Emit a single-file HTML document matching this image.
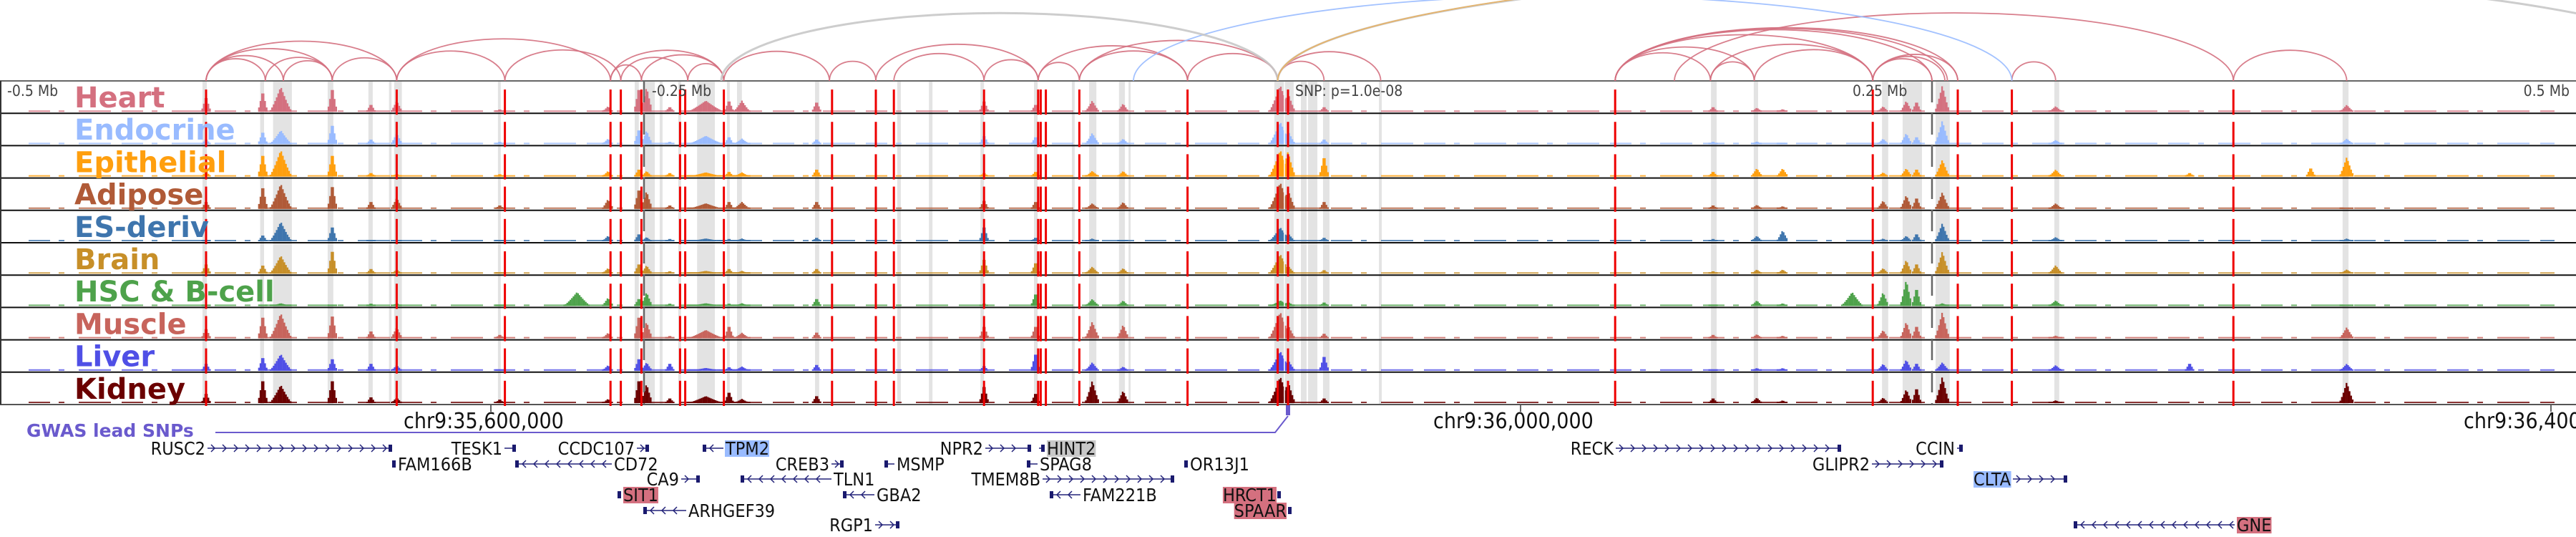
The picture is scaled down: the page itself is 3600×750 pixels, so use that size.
<!DOCTYPE html>
<html><head><meta charset="utf-8">
<style>
html,body{margin:0;padding:0;background:#fff;width:3600px;height:750px;overflow:hidden}
svg{display:block}
text{font-family:"DejaVu Sans","Liberation Sans",sans-serif}
.lab{font-weight:bold;font-size:40px}
.ax{font-family:"DejaVu Sans Condensed","DejaVu Sans","Liberation Sans",sans-serif;font-size:21px;fill:#444}
.gene{font-family:"DejaVu Sans Condensed","DejaVu Sans","Liberation Sans",sans-serif;font-size:25px;fill:#111}
.chr{font-family:"DejaVu Sans Condensed","DejaVu Sans","Liberation Sans",sans-serif;font-size:30px;fill:#111}
</style></head>
<body>
<svg id="fig" width="3600" height="750" viewBox="0 0 3600 750" xmlns="http://www.w3.org/2000/svg">
<defs><clipPath id="arcclip"><rect x="0" y="0" width="3600" height="114"/></clipPath></defs>
<g id="bands"></g>
<g id="bars"></g>
<g id="frames"></g>
<g id="reds"></g>
<g id="arcs" clip-path="url(#arcclip)"></g>
<g id="labels"></g>
<g>
<text class="ax" x="10" y="134">-0.5 Mb</text>
<text class="ax" x="911" y="134">-0.25 Mb</text>
<text class="ax" x="1810" y="134">SNP: p=1.0e-08</text>
<text class="ax" x="2589" y="134">0.25 Mb</text>
<text class="ax" x="3591" y="134" text-anchor="end">0.5 Mb</text>
</g>
<g>
<line x1="686" y1="566" x2="686" y2="575" stroke="#333" stroke-width="1.5"/>
<line x1="2125" y1="566" x2="2125" y2="575" stroke="#333" stroke-width="1.5"/>
<line x1="3565" y1="566" x2="3565" y2="575" stroke="#333" stroke-width="1.5"/>
<text class="chr" x="564" y="598">chr9:35,600,000</text>
<text class="chr" x="2003" y="598">chr9:36,000,000</text>
<text class="chr" x="3443" y="598">chr9:36,400,000</text>
</g>
<g>
<text x="37" y="610" font-size="25" font-weight="bold" fill="#6a5acd">GWAS lead SNPs</text>
<polyline points="301,604 1782,604 1800,581" fill="none" stroke="#6a5acd" stroke-width="2"/>
<rect x="1797" y="566" width="6" height="14" fill="#6a5acd"/>
</g>
<g id="genes"></g>
</svg>
<script>
// ---- data ----
var trackNames = ["Heart","Endocrine","Epithelial","Adipose","ES-deriv","Brain","HSC & B-cell","Muscle","Liver","Kidney"];
var trackColors = ["#d4707f","#99bbff","#ff9f0e","#b05a37","#3e75ad","#c78f28","#4ea24b","#c7645c","#4f4fe6","#6b0000"];
var peakPos = [-420,-398,-391,-371,-356,-346,-306,-276,-264,-252,-249,-240,-226,-217,-212,-183,-118,-98,-76,-64,-3,0,14,165,182,192,219,231,240,244,254,298,350,397,411];
var peakWidth = [1.5,1.5,4,1.5,1.5,2,1.5,5,2,1.5,2,1.5,7,1.5,3,1.5,1.5,1.5,2.5,2,4,2.5,1.5,1.5,2,2,4,2,2,1.5,2.5,2.5,1.5,1.5,2.5];
var heartVals   =[0.6,0.8,0.9,0.95,0.3,0.4,0.1,0,0.2,0.95,0.9,0.2,0.4,0.45,0.4,0.4,0.45,0.3,0.4,0.3,0.95,0.7,0.2,0.2,0.15,0.1,0,0.2,0.4,0.4,0.95,0.2,0,0,0.25];
var endoVals    =[0.2,0.5,0.5,0.8,0.2,0.4,0.1,0,0.2,0.6,0.5,0.1,0.3,0.3,0.2,0.2,0.35,0.3,0.4,0.2,0.8,0.5,0.2,0.1,0.1,0.05,0,0.2,0.4,0.3,0.85,0.15,0,0,0.2];
var epiVals     =[0.2,0.9,0.95,0.9,0.15,0.1,0.1,0,0.2,0.3,0.2,0.15,0.15,0.2,0.15,0.3,0.15,0.2,0.2,0.2,0.95,0.9,0.8,0.2,0.3,0.3,0,0.15,0.3,0.3,0.6,0.25,0.15,0.35,0.7];
var adiVals     =[0.3,0.9,0.9,0.95,0.3,0.4,0.15,0,0.35,0.8,0.65,0.15,0.2,0.3,0.25,0.3,0.35,0.3,0.2,0.25,0.95,0.7,0.3,0.15,0.15,0.1,0,0.3,0.5,0.45,0.6,0.2,0,0,0.05];
var esVals      =[0.05,0.25,0.7,0.6,0.05,0.05,0.05,0,0.2,0.3,0.15,0.1,0.1,0.1,0.1,0.15,0.6,0.15,0.1,0.05,0.5,0.3,0.15,0.1,0.2,0.4,0,0.1,0.2,0.3,0.65,0.15,0,0,0.1];
var brainVals   =[0.4,0.35,0.65,0.95,0.2,0.15,0.05,0,0.2,0.4,0.3,0.1,0.1,0.2,0.1,0.2,0.6,0.45,0.25,0.2,0.7,0.3,0.15,0.1,0.15,0.15,0,0.2,0.5,0.4,0.8,0.3,0,0,0.15];
var hscVals     =[0.05,0.05,0.1,0.05,0.1,0.1,0.05,0.5,0.3,0.3,0.5,0.1,0.1,0.1,0.1,0.3,0.1,0.5,0.25,0.2,0.2,0.15,0.15,0.05,0.2,0.1,0.5,0.5,0.95,0.7,0.1,0.2,0,0,0.05];
var muscVals    =[0.4,0.9,0.9,0.95,0.3,0.4,0.15,0,0.2,0.9,0.6,0.1,0.3,0.5,0.2,0.25,0.5,0.5,0.6,0.5,0.95,0.5,0.2,0.15,0.15,0.1,0,0.3,0.6,0.5,0.95,0.1,0,0,0.4];
var liverVals   =[0.3,0.55,0.6,0.5,0.3,0.2,0.05,0,0.2,0.5,0.3,0.3,0.1,0.15,0.15,0.25,0.2,0.7,0.3,0.15,0.7,0.4,0.6,0.05,0.1,0.1,0,0.25,0.4,0.3,0.3,0.2,0.3,0,0.25];
var kidVals     =[0.4,0.95,0.65,0.95,0.25,0.2,0.15,0,0.15,0.95,0.7,0.2,0.25,0.45,0.15,0.3,0.7,0.4,0.8,0.45,0.95,0.8,0.2,0.2,0.2,0.1,0,0.2,0.5,0.6,0.95,0.1,0,0,0.75];
var redLines = [-420,-346,-304,-263,-259,-251,-236,-234,-219,-177,-160,-153,-118,-97,-96,-94,-81,-39,-4,0,127,227,260,281,367];
var greyDashLines = [-250,250];
var bandStart = [-421.4,-399,-394,-372.8,-357,-349,-347,-306.7,-253.6,-249.7,-243.9,-236.7,-229.4,-217.8,-213.9,-183.6,-151.7,-139.4,-119.4,-98.6,-83.9,-77.2,-65.6,-61.9,-5.3,5,7.8,13.6,35.3,164.2,180.8,230.6,238.6,251.4,297.5,409.4];
var bandEnd   = [-419.7,-397.5,-386.7,-370.6,-355.3,-348,-344,-305.6,-252,-245.8,-242.8,-235.6,-222.5,-216.7,-212,-182,-150.3,-138,-118,-97.2,-82.8,-74.4,-63.3,-61.1,2.2,7.2,11.4,16.1,36.4,166.4,182.5,233,246.1,256.9,299.4,411.7];
var arcFrom = [-420,-420,-420,-420,-397,-390,-371,-346,-346,-304,-263,-259,-251,-263,-233,-219,-178,-153,-160,-118,-97,-97,-81,-39,-4,-4,-81,127,127,164,127,127,127,127,164,181,227,227,227,281,367,150,-60,-220,-4,-4];
var arcTo   = [-397,-390,-371,-346,-371,-371,-346,-263,-304,-259,-251,-233,-219,-219,-219,-178,-160,-118,-97,-97,-81,-39,-39,-4,14,36,-4,164,181,181,227,250,256,260,227,227,250,255,260,298,411,367,281,-4,560,600];
var arcColor= ["r","r","r","r","r","r","r","r","r","r","r","r","r","r","r","r","r","r","r","r","r","r","r","r","r","r","r","r","r","r","r","r","r","r","r","r","r","r","r","r","r","r","b","g","g","o"];
var geneName = ["RUSC2","FAM166B","TESK1","CD72","CCDC107","TPM2","CA9","SIT1","ARHGEF39","CREB3","TLN1","MSMP","GBA2","RGP1","NPR2","HINT2","SPAG8","TMEM8B","FAM221B","OR13J1","HRCT1","SPAAR","RECK","GLIPR2","CCIN","CLTA","GNE"];
var geneStart = [290,550,705,720,890,982,952,863,899,1162,1035,1236,1178,1223,1377,1452,1435,1457,1467,1657,1787,1801,2258,2616,2735,2813,2898];
var geneEnd   = [548,553,721,855,907,1011,978,868,959,1179,1162,1250,1222,1257,1441,1460,1450,1641,1510,1660,1790,1805,2573,2716,2743,2889,3123];
var geneRow   = [0,1,0,1,0,0,2,3,4,1,2,1,3,5,0,0,1,2,3,1,3,4,0,1,0,2,5];
var geneSide  = ["L","R","L","R","L","R","L","R","R","L","R","R","R","L","L","R","R","L","R","R","L","L","L","L","L","L","R"];
var geneStrand= [1,0,0,-1,1,-1,1,0,-1,1,-1,-1,-1,1,1,0,-1,1,-1,0,0,0,1,1,0,1,-1];
var geneHi    = ["","","","","","#99bbff","","#d4707f","","","","","","","","#c8c8c8","","","","","#d4707f","#d4707f","","","","#99bbff","#d4707f"];

// ---- scales ----
var NS="http://www.w3.org/2000/svg";
var TOP=113, TH=45.2, X0=1800, PXKB=3.6;
function xs(kb){return X0+kb*PXKB;}
function mk(tag,attrs,parent){var e=document.createElementNS(NS,tag);for(var k in attrs)e.setAttribute(k,attrs[k]);parent.appendChild(e);return e;}
var trackVals=[heartVals,endoVals,epiVals,adiVals,esVals,brainVals,hscVals,muscVals,liverVals,kidVals];

var gB=document.getElementById('bands');
for(var i=0;i<bandStart.length;i++){
  var r=mk('rect',{x:xs(bandStart[i]),y:TOP,width:Math.max(2,(bandEnd[i]-bandStart[i])*PXKB),height:TH*10,fill:'#e3e3e3'},gB);
  
  
}
var gBar=document.getElementById('bars');
for(var t=0;t<10;t++){
  var g=mk('g',{},gBar);
  
  
  var base=TOP+TH*(t+1)-2, H=TH-6;
  mk('line',{x1:40,y1:base-1,x2:3570,y2:base-1,stroke:trackColors[t],'stroke-width':2,'stroke-dasharray':'30 12 8 20 45 15','opacity':0.8},g);
  var vals=trackVals[t];
  for(var p=0;p<peakPos.length;p++){
    var h=vals[p]; if(h<=0)continue;
    var w=peakWidth[p];
    for(var d=-w;d<=w+0.001;d+=0.6){
      var f=1-Math.abs(d)/(w+0.6);
      var bh=Math.max(2,h*H*Math.pow(f,1.3));
      var b=mk('rect',{x:xs(peakPos[p]+d)-1.1,y:base-bh,width:2.3,height:bh,fill:trackColors[t]},g);
      
      
    }
  }
}
mk('line',{x1:1795,y1:TOP,x2:1795,y2:TOP+TH*10,stroke:'#fff','stroke-width':1.5},gBar);
var gF=document.getElementById('frames');
mk('line',{x1:0,y1:TOP,x2:3600,y2:TOP,stroke:'#666','stroke-width':2},gF);
for(var t=1;t<=10;t++){mk('line',{x1:0,y1:TOP+TH*t,x2:3600,y2:TOP+TH*t,stroke:t==10?'#555':'#111','stroke-width':2},gF);}
mk('line',{x1:1,y1:TOP,x2:1,y2:TOP+TH*10,stroke:'#333','stroke-width':2},gF);
var gR=document.getElementById('reds');
for(var i=0;i<redLines.length;i++){
  for(var t=0;t<10;t++){
    var l=mk('line',{x1:xs(redLines[i]),y1:TOP+TH*t+12,x2:xs(redLines[i]),y2:TOP+TH*t+TH+2,stroke:'#ee0000','stroke-width':3},gR);
    
    
  }
}
for(var i=0;i<greyDashLines.length;i++){
  var l=mk('line',{x1:xs(greyDashLines[i]),y1:TOP,x2:xs(greyDashLines[i]),y2:TOP+TH*10,stroke:'#666','stroke-width':2.5,'stroke-dasharray':'30 15'},gR);
  
  
}
var gA=document.getElementById('arcs');
var colMap={r:'#d4707f',b:'#99bbff',g:'#c8c8c8',o:'#e8b060'};
for(var i=0;i<arcFrom.length;i++){
  var x1=xs(arcFrom[i]),x2=xs(arcTo[i]);var span=Math.abs(x2-x1);
  var ry=3.4*Math.sqrt(span);
  var a=mk('path',{d:'M'+x1+' '+TOP+' A'+(span/2)+' '+ry+' 0 0 1 '+x2+' '+TOP,fill:'none',stroke:colMap[arcColor[i]],'stroke-width':arcColor[i]=='g'?3:1.8,opacity:0.9},gA);
  
  
}
var gL=document.getElementById('labels');
for(var t=0;t<10;t++){
  var tx=mk('text',{x:104,y:TOP+TH*t+37,'class':'lab',fill:trackColors[t]},gL);
  tx.textContent=trackNames[t];
  
  
}
var gG=document.getElementById('genes');
var rowY=[626,648,669,691,713,733];
for(var i=0;i<geneName.length;i++){
  var y=rowY[geneRow[i]],s=geneStart[i],e=geneEnd[i];
  var g=mk('g',{},gG);
  
  
  mk('line',{x1:s,y1:y,x2:e,y2:y,stroke:'#23237a','stroke-width':1.5},g);
  if(geneStrand[i]!=0){
    for(var x=s+10;x<e-6;x+=16){
      var dx=geneStrand[i]>0?-5:5;
      mk('polyline',{points:(x+dx)+','+(y-5)+' '+x+','+y+' '+(x+dx)+','+(y+5),fill:'none',stroke:'#23237a','stroke-width':1.5},g);
    }
  }
  mk('rect',{x:(geneStrand[i]<0?s:e-5),y:y-5,width:5,height:10,fill:'#1a1a6e'},g);
  var lx=geneSide[i]=='L'?s-3:e+3;
  var t=mk('text',{x:lx,y:y+9,'class':'gene','text-anchor':geneSide[i]=='L'?'end':'start'},g);
  t.textContent=geneName[i];
  if(geneHi[i]){
    var bb=t.getBBox();
    var r=document.createElementNS(NS,'rect');
    r.setAttribute('x',bb.x);r.setAttribute('y',y-11);r.setAttribute('width',bb.width);r.setAttribute('height',23);r.setAttribute('fill',geneHi[i]);
    g.insertBefore(r,t);
    if(geneHi[i]!='#c8c8c8')t.setAttribute('fill','#fff');
  }
}
</script>
</body></html>
